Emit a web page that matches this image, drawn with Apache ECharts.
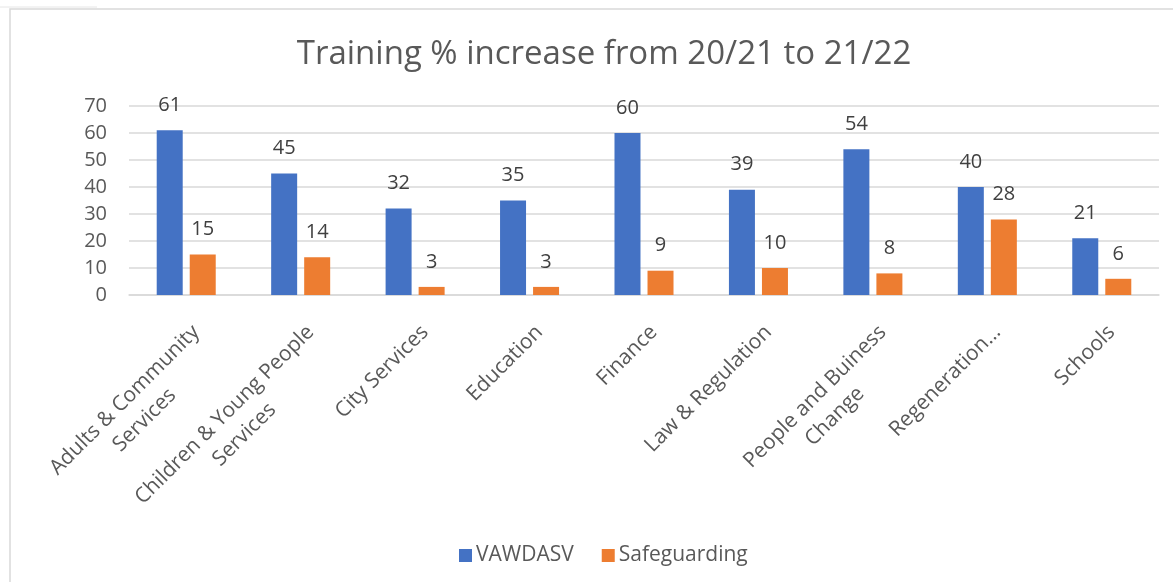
<!DOCTYPE html>
<html>
<head>
<meta charset="utf-8">
<script src="https://cdn.jsdelivr.net/npm/echarts@6/dist/echarts.min.js"></script>
<style>
  html, body { margin: 0; padding: 0; background: #fff; }
  #chart { width: 1173px; height: 582px; }
</style>
</head>
<body>
<div id="chart"></div>
<script>
const categories = [
  "Adults & Community\nServices",
  "Children & Young People\nServices",
  "City Services",
  "Education",
  "Finance",
  "Law & Regulation",
  "People and Buiness\nChange",
  "Regeneration…",
  "Schools"
];
const vawdasv = [61, 45, 32, 35, 60, 39, 54, 40, 21];
const safeguarding = [15, 14, 3, 3, 9, 10, 8, 28, 6];
const yTicks = { min: 0, max: 70, interval: 10 };

const FONT = "Open Sans";
const GREY = "#595959";

let myChart = echarts.init(document.getElementById("chart"));
myChart.setOption({
  animation: false,
  title: {
    text: "Training % increase from 20/21 to 21/22",
    left: 599,
    top: 33,
    textAlign: "center",
    textStyle: { fontFamily: FONT, fontSize: 33, fontWeight: "normal", color: GREY }
  },
  legend: {
    data: ["VAWDASV", "Safeguarding"],
    left: 454,
    top: 540,
    itemWidth: 13,
    itemHeight: 13,
    itemGap: 28,
    icon: "rect",
    textStyle: { fontFamily: FONT, fontSize: 21, color: GREY, padding: [0, 0, 0, -1] }
  },
  grid: {
    left: 129,
    right: 14,
    top: 106,
    bottom: 287,
    containLabel: false
  },
  xAxis: {
    type: "category",
    data: categories,
    axisTick: { show: false },
    axisLine: { lineStyle: { color: "#d9d9d9", width: 1.5 } },
    axisLabel: {
      interval: 0,
      rotate: 45,
      margin: 24,
      verticalAlign: "top",
      fontFamily: FONT,
      fontSize: 21,
      color: GREY,
      lineHeight: 28,
      formatter: function (value) {
        if (value.indexOf("\n") < 0) return value;
        return value.split("\n").map(l => "{c|" + l + "}").join("\n");
      },
      rich: {
        c: { align: "center", fontFamily: FONT, fontSize: 21, color: GREY, lineHeight: 28 }
      }
    }
  },
  yAxis: {
    type: "value",
    min: yTicks.min,
    max: yTicks.max,
    interval: yTicks.interval,
    axisLine: { show: false },
    axisTick: { show: false },
    splitLine: { lineStyle: { color: "#d9d9d9", width: 1.5 } },
    axisLabel: { margin: 22, fontFamily: FONT, fontSize: 20, color: GREY }
  },
  series: [
    {
      name: "VAWDASV",
      type: "bar",
      data: vawdasv,
      barWidth: 26,
      barGap: "27%",
      itemStyle: { color: "#4472C4" },
      label: { show: true, position: "top", distance: 15, fontFamily: FONT, fontSize: 20, color: "#404040" }
    },
    {
      name: "Safeguarding",
      type: "bar",
      data: safeguarding,
      barWidth: 26,
      itemStyle: { color: "#ED7D31" },
      label: { show: true, position: "top", distance: 15, fontFamily: FONT, fontSize: 20, color: "#404040" }
    }
  ],
  graphic: [
    {
      type: "rect",
      silent: true,
      shape: { x: 10, y: 9, width: 1200, height: 600 },
      style: { fill: null, stroke: "#d9d9d9", lineWidth: 1.5 }
    },
    {
      type: "line",
      silent: true,
      shape: { x1: 0, y1: 7, x2: 97, y2: 7 },
      style: { stroke: "#e6e6e6", lineWidth: 1 }
    }
  ]
});
</script>
</body>
</html>
